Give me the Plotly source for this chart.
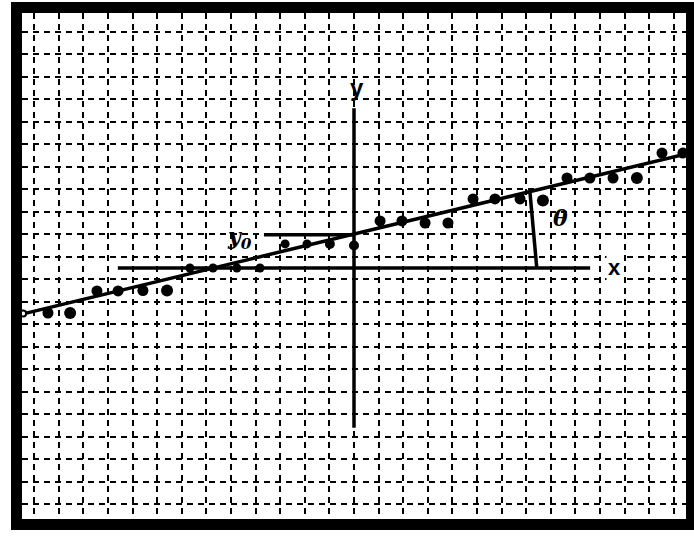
import plotly.graph_objects as go

W, H = 694, 536

# ---- data (grid units, origin at the drawn x/y axes) ----
dots_x = [-12.44, -11.54,
          -10.45, -9.59, -8.58, -7.60,
          -6.67, -5.73, -4.76, -3.82,
          -2.80, -1.91, -0.98, 0.0,
          1.06, 1.95, 2.89, 3.82,
          4.84, 5.73, 6.75, 7.68,
          8.66, 9.59, 10.53, 11.50,
          12.52, 13.37]
dots_y = [-2.0, -2.0,
          -1.02, -1.02, -1.0, -1.0,
          0.0, 0.0, 0.0, 0.0,
          1.07, 1.07, 1.07, 1.0,
          2.09, 2.09, 2.0, 2.0,
          3.07, 3.07, 3.07, 3.0,
          4.0, 4.0, 4.0, 4.0,
          5.11, 5.11]
dots_size = [11, 12,
             11, 11, 11, 12,
             9, 9, 9, 9,
             9, 9, 10, 10,
             11, 11, 11, 11,
             11, 11, 11, 12,
             11, 11, 11, 12,
             11, 11]
start_x = [-13.45]
start_y = [-2.02]

fit_x = [-13.45, 13.5]
fit_y = [-2.04, 5.07]

xaxis_x = [-9.6, 9.6]
xaxis_y = [0.0, 0.0]
yaxis_x = [0.0, 0.0]
yaxis_y = [-7.1, 7.1]
y0_x = [-3.66, 0.0]
y0_y = [1.48, 1.48]
theta_x = [7.15, 7.43]
theta_y = [3.4, 0.0]

label_text = ["y", "x", "θ", "y<sub>0</sub>"]
label_x = [0.12, 10.6, 8.41, -4.65]
label_y = [8.0, 0.0, 2.2, 1.35]

fig = go.Figure()

line_style = dict(color="black", width=3.5)
for lx, ly in [(fit_x, fit_y), (xaxis_x, xaxis_y), (yaxis_x, yaxis_y),
               (y0_x, y0_y), (theta_x, theta_y)]:
    fig.add_trace(go.Scatter(x=lx, y=ly, mode="lines", line=line_style,
                             hoverinfo="skip", showlegend=False))

fig.add_trace(go.Scatter(x=dots_x, y=dots_y, mode="markers",
                         marker=dict(color="black", size=dots_size, opacity=1,
                                     line=dict(width=0)),
                         showlegend=False))
fig.add_trace(go.Scatter(x=start_x, y=start_y, mode="markers",
                         marker=dict(color="white", size=6, opacity=1,
                                     line=dict(color="black", width=2)),
                         showlegend=False))

fonts = [dict(family="Liberation Sans", size=24, color="black"),
         dict(family="Liberation Sans", size=22, color="black"),
         dict(family="DejaVu Serif", size=22, color="black"),
         dict(family="DejaVu Serif", size=22, color="black")]
texts = ["<b>y</b>", "<b>x</b>", "<i><b>θ</b></i>", "<i><b>y<sub>0</sub></b></i>"]
for t, x, y, f in zip(texts, label_x, label_y, fonts):
    ann = dict(x=x, y=y, text=t, showarrow=False, font=f,
               xanchor="center", yanchor="middle")
    if t == "<b>x</b>":
        ann["bgcolor"] = "white"
    fig.add_annotation(**ann)

# frame
fig.add_shape(type="rect", xref="paper", yref="paper",
              x0=16.5 / W, x1=691.5 / W, y0=(H - 524.5) / H, y1=(H - 7.5) / H,
              line=dict(color="black", width=11), fillcolor="rgba(0,0,0,0)")

grid = dict(showgrid=True, gridcolor="black", gridwidth=2.2, griddash="6px,5px",
            showticklabels=False, ticks="", showline=False, zeroline=False,
            fixedrange=True)

fig.update_layout(
    width=W, height=H,
    margin=dict(l=0, r=0, t=0, b=0),
    paper_bgcolor="white", plot_bgcolor="white",
    xaxis=dict(range=[-13.496, 13.496], dtick=1, tick0=0,
               domain=[22 / W, 686 / W], **grid),
    yaxis=dict(range=[-11.156, 11.333], dtick=1, tick0=0.5,
               domain=[(H - 519) / H, (H - 13) / H], **grid),
    showlegend=False,
)

fig.write_html("out.html")
